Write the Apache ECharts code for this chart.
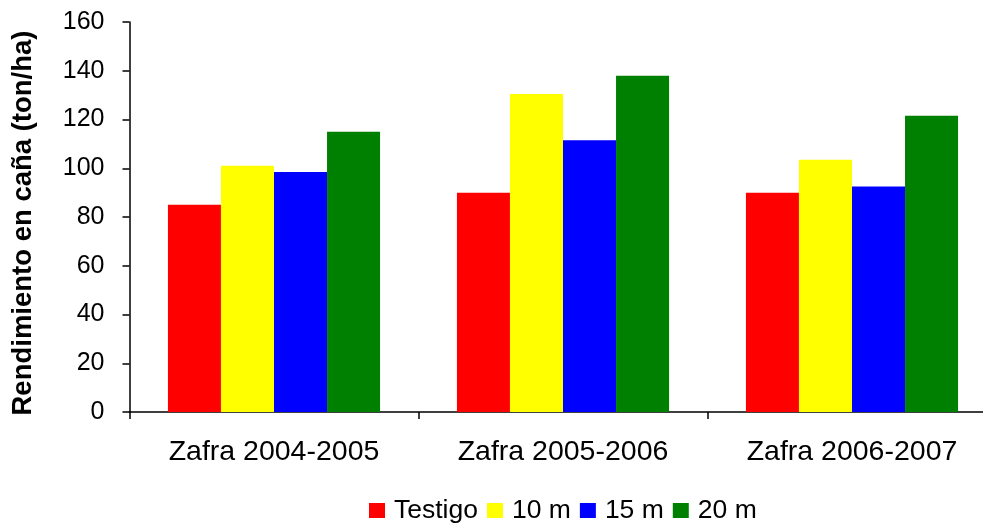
<!DOCTYPE html>
<html>
<head>
<meta charset="utf-8">
<script src="https://cdn.jsdelivr.net/npm/echarts@6/dist/echarts.min.js"></script>
<style>
html,body{margin:0;padding:0;background:#fff;overflow:hidden;width:983px;height:524px;}
#chart{width:1000px;height:524px;}
</style>
</head>
<body>
<div id="chart"></div>
<script>
const categories = ['Zafra 2004-2005', 'Zafra 2005-2006', 'Zafra 2006-2007'];
const seriesNames = ['Testigo', '10 m', '15 m', '20 m'];
const testigo = [85, 90, 90];
const m10 = [101, 130.5, 103.5];
const m15 = [98.5, 111.5, 92.5];
const m20 = [115, 138, 121.5];
const yTitle = 'Rendimiento en caña (ton/ha)';
const colors = ['#FF0000', '#FFFF00', '#0000FF', '#008000'];

const values = [testigo, m10, m15, m20];
const font = '"Liberation Sans", Arial, sans-serif';

const chart = echarts.init(document.getElementById('chart'), null, {renderer: 'canvas'});
chart.setOption({
  animation: false,
  backgroundColor: '#fff',
  textStyle: {fontFamily: font},
  grid: {left: 129.5, right: 3.5, top: 22, bottom: 112, containLabel: false},
  legend: {
    left: 369, top: 497, padding: 0, itemWidth: 16, itemHeight: 15, itemGap: 9,
    icon: 'rect',
    textStyle: {fontFamily: font, fontSize: 26.5, color: '#000', padding: [0, 0, 0, 4]},
    data: seriesNames
  },
  xAxis: {
    type: 'category',
    data: categories,
    axisLine: {lineStyle: {color: '#000', width: 1.5}},
    axisTick: {show: true, length: 7, lineStyle: {color: '#000', width: 1.5}},
    axisLabel: {fontFamily: font, fontSize: 28.5, color: '#000', margin: 26},
    splitLine: {show: false}
  },
  yAxis: {
    type: 'value', min: 0, max: 160, interval: 20,
    name: yTitle, nameLocation: 'middle', nameGap: 92, nameRotate: 90,
    nameTextStyle: {fontFamily: font, fontSize: 27.5, fontWeight: 'bold', color: '#000', padding: [0, 12, 0, 0]},
    axisLine: {show: true, lineStyle: {color: '#000', width: 1.5}},
    axisTick: {show: true, length: 7, lineStyle: {color: '#000', width: 1.5}},
    axisLabel: {fontFamily: font, fontSize: 25, color: '#000', margin: 25},
    splitLine: {show: false}
  },
  series: seriesNames.map((n, i) => ({
    name: n, type: 'bar', data: values[i],
    barGap: '0%', barCategoryGap: '26.6%',
    itemStyle: {color: colors[i]}
  }))
});
</script>
</body>
</html>
